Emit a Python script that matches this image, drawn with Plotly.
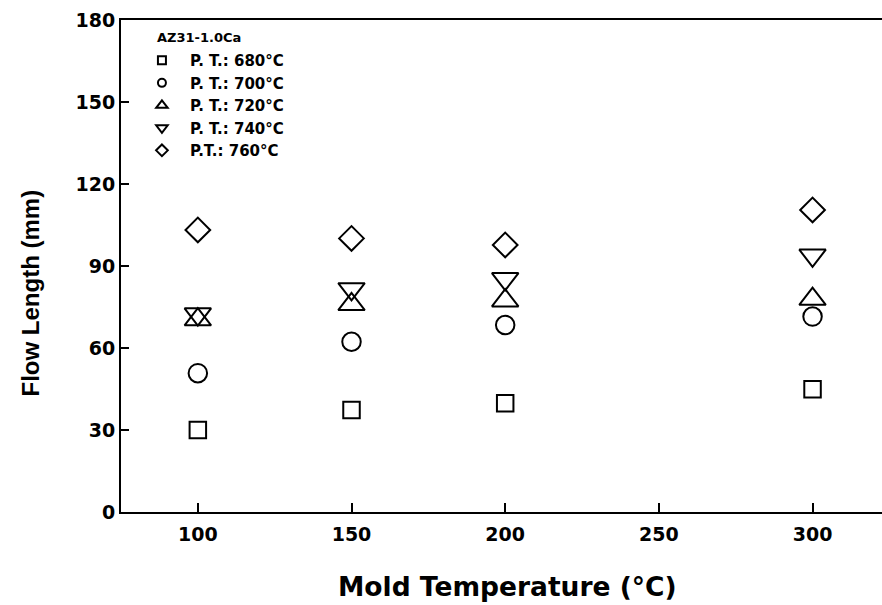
import plotly.graph_objects as go

mold_temp = [100, 150, 200, 300]
pt_680 = [30, 37.3, 39.8, 44.9]
pt_700 = [50.8, 62.3, 68.4, 71.5]
pt_720 = [70.4, 76.0, 77.3, 77.9]
pt_740 = [72.4, 81.6, 85.3, 93.9]
pt_760 = [103.2, 100.1, 97.7, 110.5]

series_names = ["P. T.: 680°C", "P. T.: 700°C", "P. T.: 720°C", "P. T.: 740°C", "P.T.: 760°C"]
series_values = [pt_680, pt_700, pt_720, pt_740, pt_760]
symbols = ["square-open", "circle-open", "triangle-up-open", "triangle-down-open", "diamond-open"]
sizes = [16.5, 18.5, 23, 23, 19]
legend_sizes = [8, 8, 10, 10, 9]

x_ticks = [100, 150, 200, 250, 300]
y_ticks = [0, 30, 60, 90, 120, 150, 180]

legend_title = "AZ31-1.0Ca"
x_title = "Mold Temperature (°C)"
y_title = "Flow Length (mm)"

WIDE = "DejaVu Sans, sans-serif"
NARROW = "Liberation Sans, Arial, sans-serif"

fig = go.Figure()
for name, vals, sym, sz in zip(series_names, series_values, symbols, sizes):
    fig.add_trace(go.Scatter(
        x=mold_temp, y=vals, mode="markers", name=name, showlegend=False,
        marker=dict(symbol=sym, size=sz, color="black", line=dict(width=2, color="black")),
    ))
# legend-only traces with small markers
for name, sym, sz in zip(series_names, symbols, legend_sizes):
    fig.add_trace(go.Scatter(
        x=[None], y=[None], mode="markers", name=name, showlegend=True,
        marker=dict(symbol=sym, size=sz, color="black", line=dict(width=2, color="black")),
    ))

fig.update_layout(
    width=882, height=605,
    margin=dict(l=121, r=0, t=20, b=93, autoexpand=False),
    paper_bgcolor="white", plot_bgcolor="white",
    font=dict(family=WIDE, color="black"),
    showlegend=True,
    legend=dict(
        x=0.017, y=0.951, xanchor="left", yanchor="top",
        font=dict(size=15, family=WIDE, weight="bold"),
        bgcolor="rgba(0,0,0,0)", itemwidth=46, tracegroupgap=0,
    ),
    xaxis=dict(
        range=[75, 322.6], tickvals=x_ticks, ticks="inside", ticklen=9, tickwidth=2,
        tickcolor="black", showline=True, linecolor="black", linewidth=2, mirror=True,
        showgrid=False, zeroline=False, ticklabelstandoff=4,
        tickfont=dict(size=19, family=WIDE, weight="bold"),
    ),
    yaxis=dict(
        range=[0, 180], tickvals=y_ticks, ticks="inside", ticklen=8, tickwidth=2,
        tickcolor="black", showline=True, linecolor="black", linewidth=2,
        showgrid=False, zeroline=False,
        tickfont=dict(size=19, family=WIDE, weight="bold"),
    ),
    annotations=[
        dict(text=legend_title, xref="paper", yref="paper", x=(155 - 121) / 761, y=(512 - 37) / 492,
             xanchor="left", yanchor="middle", showarrow=False,
             font=dict(size=13, family=WIDE, weight="bold")),
        dict(text=x_title, xref="paper", yref="paper", x=(507 - 121) / 761, y=(512 - 586) / 492,
             xanchor="center", yanchor="middle", showarrow=False,
             font=dict(size=26.5, family=WIDE, weight="bold")),
        dict(text=y_title, xref="paper", yref="paper", x=(30 - 121) / 761, y=(512 - 293.5) / 492,
             xanchor="center", yanchor="middle", showarrow=False, textangle=-90,
             font=dict(size=24, family=NARROW, weight="bold")),
    ],
)

fig.write_html(
    "out.html",
    config={"displayModeBar": False},
    post_script="document.body.style.margin='0px';document.body.style.overflow='hidden';",
)
